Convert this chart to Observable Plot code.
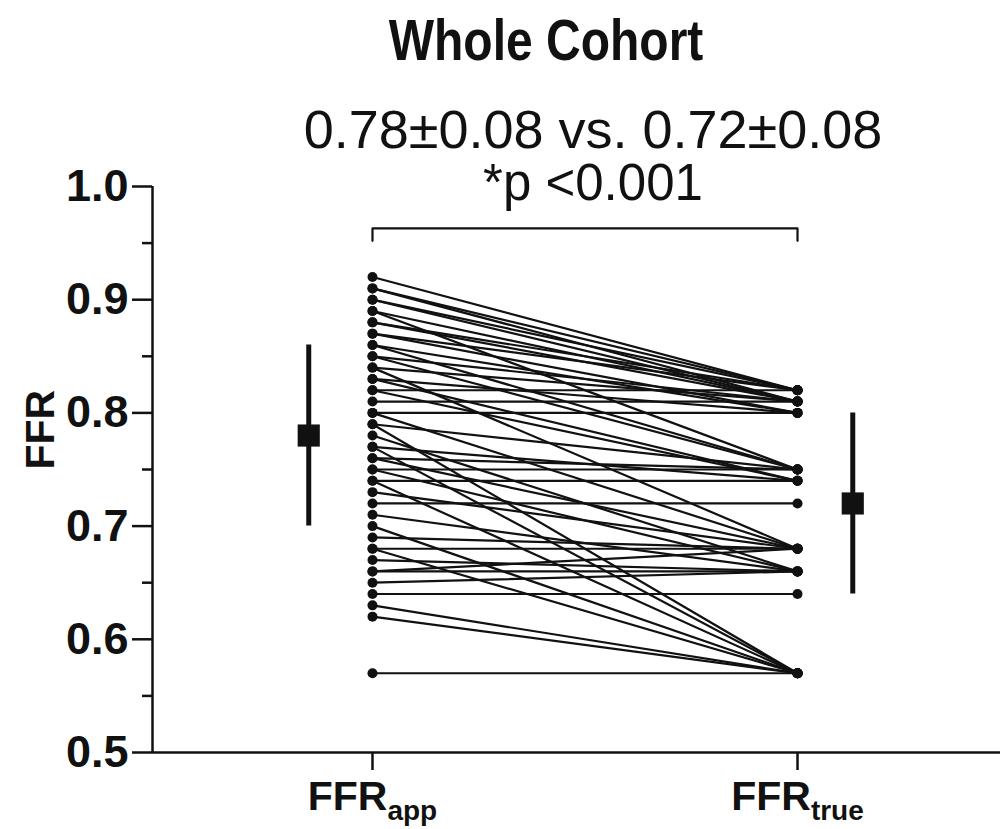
<!DOCTYPE html>
<html>
<head>
<meta charset="utf-8">
<script src="https://cdn.jsdelivr.net/npm/d3@7"></script>
<script src="https://cdn.jsdelivr.net/npm/@observablehq/plot@0.6"></script>
<style>
  html, body { margin: 0; padding: 0; background: #fff; }
  #wrap { position: relative; width: 1000px; height: 829px; font-family: "Liberation Sans", Arial, sans-serif; color: #111; }
  .head { position: absolute; text-align: center; line-height: 1; white-space: nowrap; }
  #title { left: 246px; width: 600px; top: 20px; font-size: 48px; font-weight: bold; transform: scaleY(1.18); transform-origin: 50% 85%; }
  #stats { left: 193px; width: 800px; top: 102px; font-size: 54px; }
  #pval  { left: 293px; width: 600px; top: 157px; font-size: 51px; }
  #chart { position: absolute; left: 0; top: 0; }
</style>
</head>
<body>
<div id="wrap">
  <div id="chart"></div>
  <div class="head" id="title">Whole Cohort</div>
  <div class="head" id="stats">0.78±0.08 vs. 0.72±0.08</div>
  <div class="head" id="pval">*p &lt;0.001</div>
</div>
<script>
// Paired FFR measurements: apparent (FFRapp) vs. true (FFRtrue), one entry per lesion
const groups = ["FFRapp", "FFRtrue"];
const ffrApp = [
  0.92, 0.91, 0.90, 0.89, 0.88, 0.87, 0.86, 0.85, 0.84, 0.84,
  0.83, 0.82, 0.81, 0.80, 0.80, 0.79, 0.79, 0.78, 0.77, 0.77,
  0.76, 0.76, 0.75, 0.75, 0.74, 0.74, 0.73, 0.72, 0.71, 0.70,
  0.69, 0.68, 0.68, 0.67, 0.66, 0.66, 0.65, 0.64, 0.63, 0.62,
  0.57, 0.91, 0.90, 0.89, 0.88, 0.87, 0.86, 0.85, 0.83, 0.82
];
const ffrTrue = [
  0.82, 0.82, 0.81, 0.75, 0.81, 0.82, 0.80, 0.75, 0.81, 0.68,
  0.74, 0.82, 0.81, 0.80, 0.68, 0.57, 0.75, 0.66, 0.74, 0.57,
  0.75, 0.68, 0.75, 0.66, 0.74, 0.57, 0.68, 0.72, 0.66, 0.57,
  0.68, 0.68, 0.57, 0.66, 0.68, 0.66, 0.66, 0.64, 0.57, 0.57,
  0.57, 0.81, 0.82, 0.81, 0.82, 0.80, 0.75, 0.81, 0.80, 0.74
];
// Group summaries (mean ± SD)
const means = [0.78, 0.72];
const sds = [0.08, 0.08];
// Axis ticks
const yMajor = [0.5, 0.6, 0.7, 0.8, 0.9, 1.0];
const yMinor = [0.55, 0.65, 0.75, 0.85, 0.95];

// Layout: summary markers sit beside each column of paired points
const summaryOffset = [-0.15, 0.13];
const xDomain = [-0.5176, 1.4776];
const bracketTop = 0.963, bracketDrop = 0.952;

const pairs = ffrApp.flatMap((a, i) => [
  {id: i, g: 0, v: a},
  {id: i, g: 1, v: ffrTrue[i]}
]);
const summary = means.map((m, i) => ({g: i + summaryOffset[i], m, lo: m - sds[i], hi: m + sds[i]}));
const bracket = [
  {g: 0, v: bracketDrop}, {g: 0, v: bracketTop},
  {g: 1, v: bracketTop}, {g: 1, v: bracketDrop}
];

const font = "Liberation Sans, Arial, sans-serif";
const ink = "#111";

const chart = Plot.plot({
  width: 1000,
  height: 829,
  marginTop: 186,
  marginBottom: 77,
  marginLeft: 152,
  marginRight: 0,
  style: {fontFamily: font, color: ink, background: "transparent"},
  x: {type: "linear", domain: xDomain, axis: null},
  y: {domain: [0.5, 1.0], axis: null},
  marks: [
    // axis lines
    Plot.ruleX([xDomain[0]], {y1: 0.5, y2: 1.0, stroke: ink, strokeWidth: 2.5}),
    Plot.ruleY([0.5], {stroke: ink, strokeWidth: 2.5}),
    Plot.axisY(yMajor, {
      anchor: "left", tickSize: 20, tickPadding: 4, strokeWidth: 2.5,
      tickFormat: d3.format(".1f"), fontSize: 45, fontWeight: "bold", label: null
    }),
    Plot.axisY(yMinor, {anchor: "left", tickSize: 10, strokeWidth: 2.5, tickFormat: () => "", label: null}),
    Plot.axisX([0, 1], {
      anchor: "bottom", tickSize: 18, tickPadding: 10, strokeWidth: 2.5,
      tickFormat: (d) => groups[d], fontSize: 41, fontWeight: "bold", label: null
    }),
    Plot.text(["FFR"], {frameAnchor: "left", rotate: -90, dx: -112, fontSize: 41, fontWeight: "bold", fill: ink}),
    // significance bracket
    Plot.line(bracket, {x: "g", y: "v", stroke: ink, strokeWidth: 2.2}),
    // paired lines and points
    Plot.line(pairs, {x: "g", y: "v", z: "id", stroke: ink, strokeWidth: 2.2}),
    Plot.dot(pairs, {x: "g", y: "v", r: 5, fill: ink, stroke: "none"}),
    // mean ± SD
    Plot.ruleX(summary, {x: "g", y1: "lo", y2: "hi", stroke: ink, strokeWidth: 5}),
    Plot.dot(summary, {x: "g", y: "m", symbol: "square", r: 12.5, fill: ink, stroke: "none"})
  ]
});

// subscripted group labels (FFR_app, FFR_true)
d3.select(chart).selectAll('g[aria-label="x-axis tick label"] text').each(function(d, i) {
  const t = d3.select(this);
  const name = groups[i];
  t.text(null);
  t.append("tspan").text("FFR");
  t.append("tspan").attr("font-size", 28).attr("dy", "0.38em").text(name.slice(3));
});

document.getElementById("chart").appendChild(chart);
</script>
</body>
</html>
